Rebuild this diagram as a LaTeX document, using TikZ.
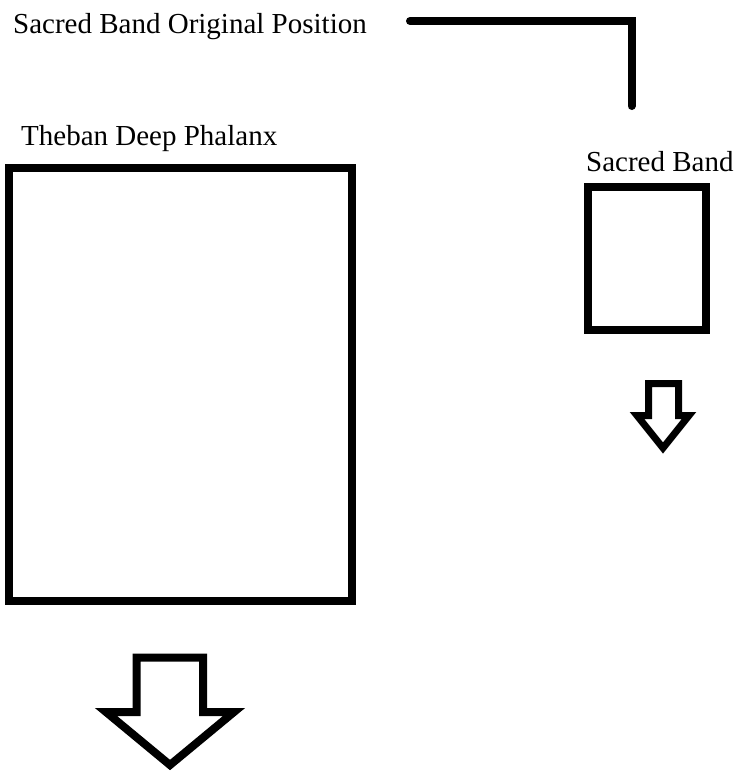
\documentclass[tikz,border=0pt]{standalone}
\usepackage{fontspec}
\setmainfont{Liberation Serif}
\begin{document}
\begin{tikzpicture}[x=1pt,y=-1pt,
  lbl/.style={anchor=base west,inner sep=0pt,font=\fontsize{29}{34}\selectfont},
  unitbox/.style={draw=black,line width=8pt,inner sep=0pt,line join=miter},
  thick line/.style={draw=black,line width=8pt,line cap=round,line join=miter},
  downarrow/.style={draw=black,fill=white,line width=8pt,line join=miter}]
\useasboundingbox (0,0) rectangle (742,772);
\fill[white] (0,0) rectangle (742,772);
% labels
\node[lbl] (orig) at (13,33) {Sacred Band Original Position};
\node[lbl] (phl) at (21,145) {Theban Deep Phalanx};
\node[lbl] (sbl) at (586,171) {Sacred Band};
% boxes
\node[unitbox,minimum width=343pt,minimum height=433pt] (phalanx) at (180.5,384.5) {};
\node[unitbox,minimum width=117.5pt,minimum height=142.5pt] (band) at (646.75,258.25) {};
% original position marker
\coordinate (ostart) at (410,21);
\coordinate (ocorner) at (631.5,21);
\coordinate (oend) at (631.5,106);
\draw[thick line] (ostart) -- (ocorner) -- (oend);
% arrows
\draw[downarrow] (136.5,657.5) -- (203,657.5) -- (203,712) -- (234,712) -- (170,765)
  -- (106,712) -- (136.5,712) -- cycle;
\draw[downarrow,line width=7pt] (648.5,383.5) -- (678.5,383.5) -- (678.5,415.5) -- (689,415.5)
  -- (663,448) -- (637,415.5) -- (648.5,415.5) -- cycle;
\end{tikzpicture}
\end{document}
